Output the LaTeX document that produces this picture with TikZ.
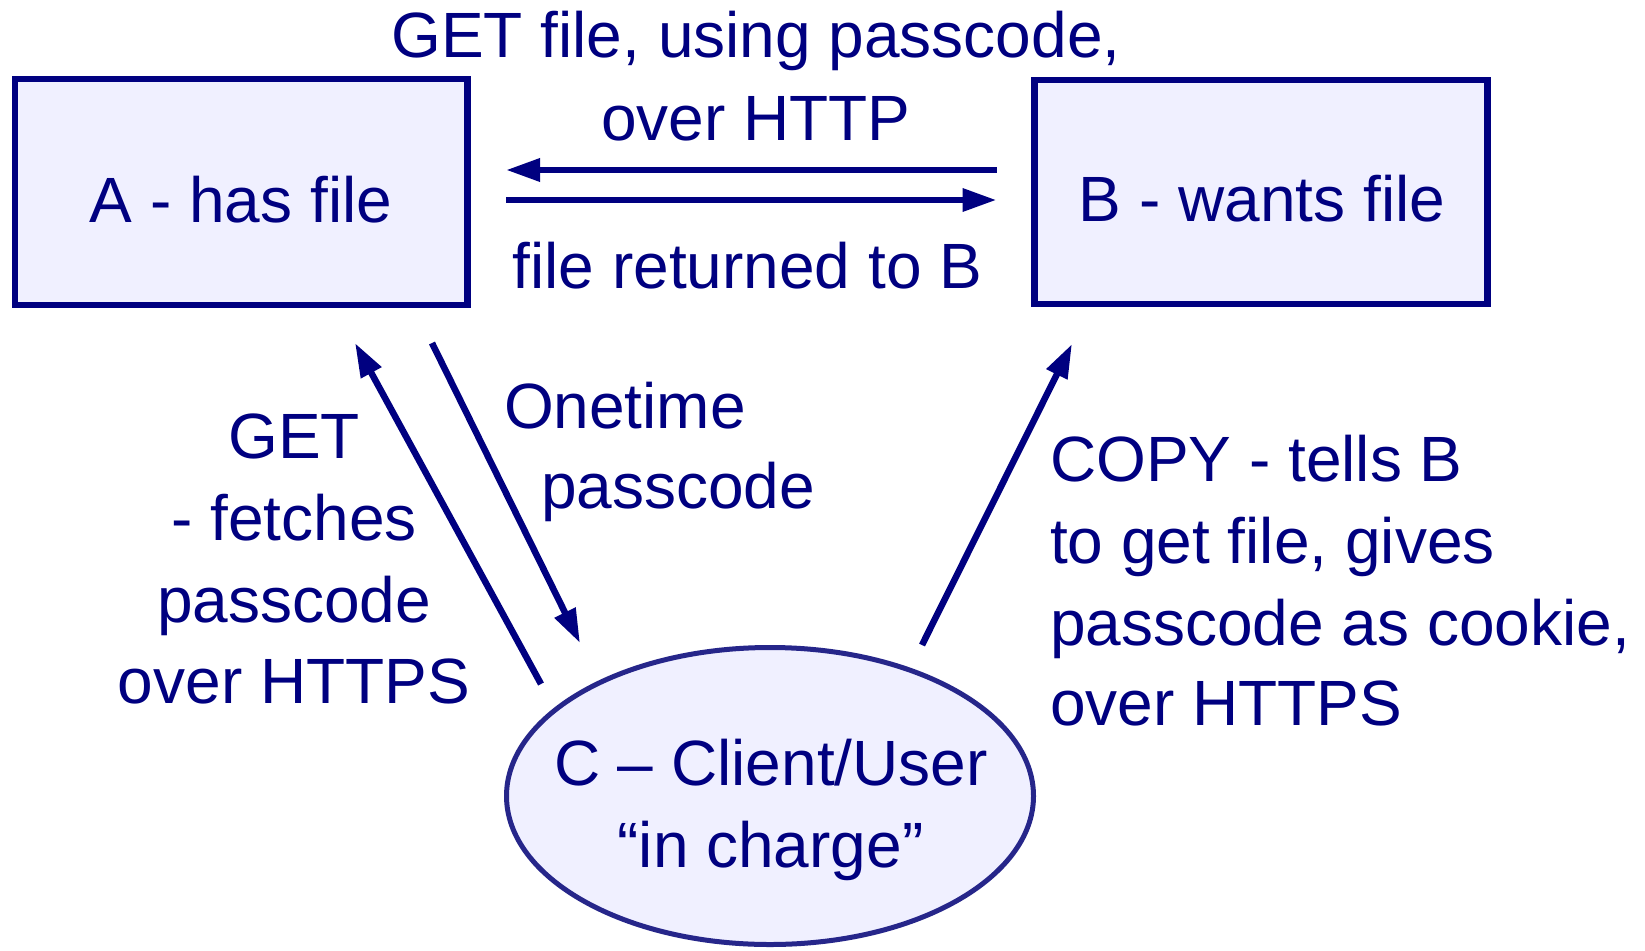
\documentclass[tikz,border=0pt]{standalone}
\usepackage{fontspec}
\setmainfont{Liberation Sans}
\usetikzlibrary{shapes.geometric,arrows.meta}
\definecolor{navy}{RGB}{0,0,128}
\definecolor{boxfill}{RGB}{240,240,255}
\definecolor{ellline}{RGB}{38,38,138}
\begin{document}
\begin{tikzpicture}[x=1pt,y=-1pt,
  txt/.style={text=navy, font=\fontsize{64}{82}\selectfont, inner sep=0pt, outer sep=0pt, anchor=base},
  txtl/.style={txt, anchor=base west},
  box/.style={draw=navy, line width=6.5pt, fill=boxfill, rectangle, inner sep=0pt, outer sep=0pt},
  oval/.style={ellipse, draw=ellline, line width=5pt, fill=boxfill, inner sep=0pt, outer sep=0pt},
  arr/.style={draw=navy, line width=6.5pt, -{Triangle[length=34pt,width=22pt]}}]
\useasboundingbox[fill=white] (0,0) rectangle (1645,950);
% nodes
\node[box, minimum width=452.5pt, minimum height=226pt] (A) at (241.25,192) {};
\node[box, minimum width=453pt, minimum height=224pt] (B) at (1261,192) {};
\node[oval, minimum width=527pt, minimum height=297pt] (C) at (770,796) {};
% node texts
\node[txt] (Atxt) at (241,222) {A - has file};
\node[txt] (Btxt) at (1262,221) {B - wants file};
\node[txt] (e1) at (771,785) {C – Client/User};
\node[txt] (e2) at (770.5,867) {“in charge”};
% labels
\node[txt] (top1) at (756,58) {GET file, using passcode,};
\node[txt] (top2) at (756,140) {over HTTP};
\node[txt] (ret) at (747.5,288) {file returned to B};
\node[txt] (g1) at (294,458) {GET};
\node[txt] (g2) at (294,540) {- fetches};
\node[txt] (g3) at (294,622) {passcode};
\node[txt] (g4) at (294,703) {over HTTPS};
\node[txtl] (o1) at (504,428) {Onetime};
\node[txtl] (o2) at (541,508) {passcode};
\node[txtl] (c1) at (1050,481) {COPY - tells B};
\node[txtl] (c2) at (1050,563) {to get file, gives};
\node[txtl] (c3) at (1050,645) {passcode as cookie,};
\node[txtl] (c4) at (1050,725) {over HTTPS};
% connector ends
\coordinate (BAs) at (996.5,170);
\coordinate (BAe) at (506,170);
\coordinate (ABs) at (506,200);
\coordinate (ABe) at (996.5,200);
\coordinate (CAs) at (541,684);
\coordinate (CAe) at (355,343);
\coordinate (ACs) at (432,343);
\coordinate (ACe) at (580,643);
\coordinate (CBs) at (922,645);
\coordinate (CBe) at (1072,344);
% connectors
\draw[arr] (BAs) -- (BAe);
\draw[arr] (ABs) -- (ABe);
\draw[arr] (CAs) -- (CAe);
\draw[arr] (ACs) -- (ACe);
\draw[arr] (CBs) -- (CBe);
\end{tikzpicture}
\end{document}
